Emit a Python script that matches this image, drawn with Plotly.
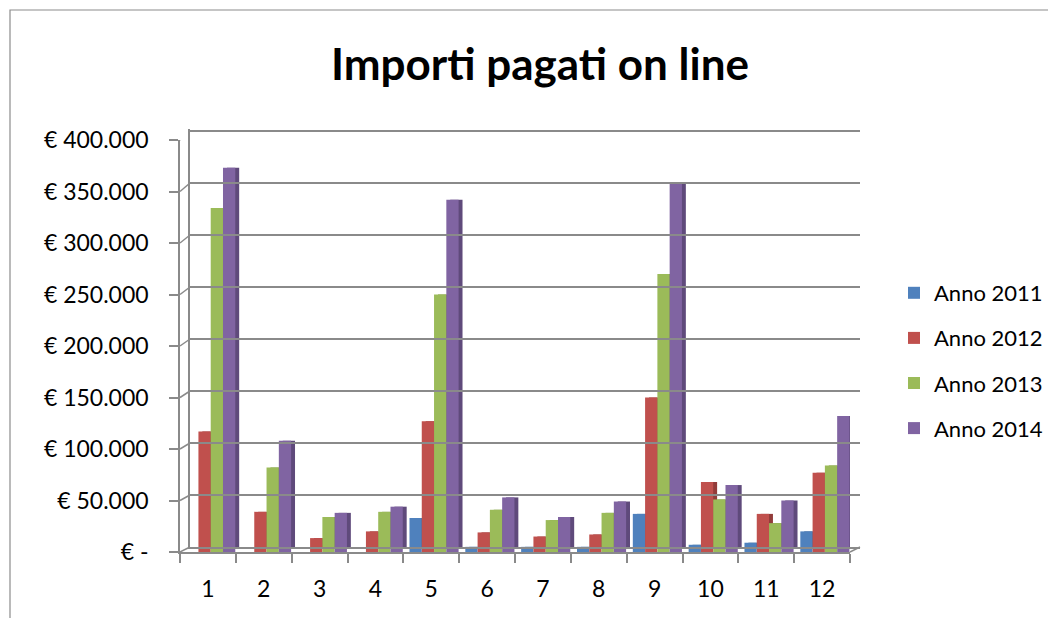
import plotly.graph_objects as go

# monthly amounts paid online, per year
months = ["1", "2", "3", "4", "5", "6", "7", "8", "9", "10", "11", "12"]
anno_2011 = [0, 0, 0, 0, 33000, 5000, 5000, 5000, 37000, 7000, 9000, 20000]
anno_2012 = [117000, 39000, 13500, 20000, 127000, 19000, 15000, 17000, 150000, 68000, 37000, 77000]
anno_2013 = [334000, 82000, 34000, 39000, 250000, 41000, 31000, 38000, 270000, 51000, 28000, 84000]
anno_2014 = [373000, 108000, 38000, 44000, 342000, 53000, 34000, 49000, 359000, 65000, 50000, 132000]

series_names = ["Anno 2011", "Anno 2012", "Anno 2013", "Anno 2014"]
y_ticks = [0, 50000, 100000, 150000, 200000, 250000, 300000, 350000, 400000]
y_labels = ["€ -", "€ 50.000", "€ 100.000", "€ 150.000", "€ 200.000",
            "€ 250.000", "€ 300.000", "€ 350.000", "€ 400.000"]

front_colors = ["#4F81BD", "#C0504D", "#9BBB59", "#8064A2"]
side_colors = ["#3B6391", "#923C3A", "#768F41", "#5F4A7B"]

FONT = "Lato"
GRID = "#8a8a8a"

# the page puts the figure 8px in from the top-left corner; the figure is a bit
# wider than the window so the legend never pushes the right margin
W, H = 1080, 610
L, T, B = 172, 121, 66
PW = 680
PH = H - T - B  # 423

fig = go.Figure()
all_series = [anno_2011, anno_2012, anno_2013, anno_2014]

# darker "side/top" faces first, slightly shifted to fake the 3D look
for i, vals in enumerate(all_series):
    fig.add_trace(go.Bar(
        x=months, y=[v - 3000 if v > 0 else 0 for v in vals], base=3000,
        offset=-0.39 + i * 0.22 + 0.07, width=0.22,
        marker_color=side_colors[i], marker_line_width=0,
        legendgroup=series_names[i], showlegend=False, hoverinfo="skip",
    ))

# front faces
for i, vals in enumerate(all_series):
    fig.add_trace(go.Bar(
        x=months, y=vals, name=series_names[i],
        offset=-0.39 + i * 0.22, width=0.22,
        marker_color=front_colors[i], marker_line_width=0,
        legendgroup=series_names[i],
    ))

# back wall with gridlines, a bit higher and to the right of the front axes
fig.add_trace(go.Scatter(x=[0, 1], y=[0, 0], xaxis="x2", yaxis="y2",
                         mode="markers", marker_opacity=0, showlegend=False,
                         hoverinfo="skip"))

back_top = 400000 * (PH - 5) / 416  # back wall: 416px per 400k

# small slanted links from the front tick marks to the back gridlines
links = []
for v in y_ticks:
    back_v = (5 + v * 416 / 400000) * 400000 / 412
    links.append(dict(type="line", xref="paper", yref="y",
                      x0=0, x1=10 / PW, y0=v, y1=back_v,
                      line=dict(color=GRID, width=1.5)))

fig.update_layout(
    width=W, height=H,
    margin=dict(l=L, r=W - L - PW, t=T, b=B),
    paper_bgcolor="white", plot_bgcolor="rgba(0,0,0,0)",
    barmode="overlay",
    title=dict(text="<b>Importi pagati on line</b>", x=532 / W, xanchor="center",
               y=1 - 57 / H, yanchor="middle",
               font=dict(family=FONT, size=44, color="black")),
    font=dict(family=FONT, size=22, color="black"),
    xaxis=dict(type="category", domain=[0, 670 / PW], range=[-0.5, 11.5],
               showline=True, linecolor=GRID, linewidth=1.5,
               ticks="outside", tickson="boundaries", ticklen=9,
               tickcolor=GRID, tickwidth=1.5, ticklabelstandoff=16,
               tickfont=dict(family=FONT, size=23), showgrid=False),
    yaxis=dict(domain=[0, 412 / PH], range=[0, 400000],
               tickvals=y_ticks, ticktext=y_labels,
               showline=True, linecolor=GRID, linewidth=1.5,
               ticks="outside", ticklen=9, tickcolor=GRID, tickwidth=1.5,
               ticklabelstandoff=16,
               tickfont=dict(family=FONT, size=23), showgrid=False,
               zeroline=False),
    xaxis2=dict(domain=[10 / PW, 1], range=[0, 1], anchor="y2",
                showline=True, linecolor=GRID, linewidth=1.5,
                showticklabels=False, ticks="", showgrid=False, zeroline=False),
    yaxis2=dict(domain=[5 / PH, 1], range=[0, back_top], anchor="x2",
                tickvals=y_ticks, showticklabels=False, ticks="",
                showgrid=True, gridcolor=GRID, gridwidth=1.8,
                showline=True, linecolor=GRID, linewidth=1.5, zeroline=False),
    legend=dict(x=1.05, y=(PH - 143) / PH, xanchor="left", yanchor="top",
                font=dict(family=FONT, size=22), tracegroupgap=13.5,
                bgcolor="rgba(0,0,0,0)"),
    shapes=[
        # outer chart border (continues past the picture edge)
        dict(type="rect", xref="paper", yref="paper",
             x0=(2 - L) / PW, x1=(W + 20 - L) / PW,
             y0=-(B + 20) / PH, y1=(T + PH - 2) / PH,
             line=dict(color="#8c8c8c", width=1.2), layer="below"),
        # floor corner on the right
        dict(type="line", xref="paper", yref="paper",
             x0=670 / PW, x1=1, y0=0, y1=5 / PH,
             line=dict(color=GRID, width=1.5)),
    ] + links,
)

fig.write_html("out.html")
